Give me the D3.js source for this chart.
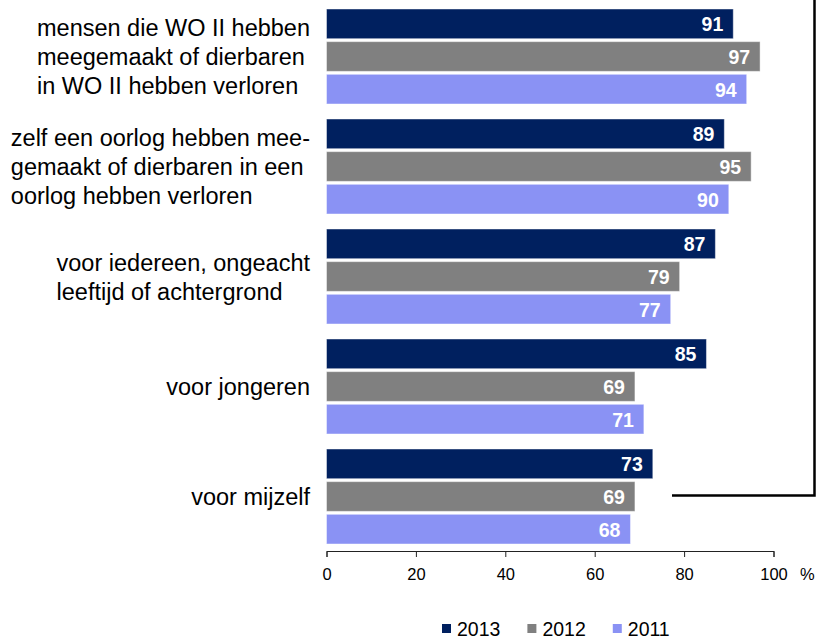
<!DOCTYPE html>
<html>
<head>
<meta charset="utf-8">
<script src="https://cdn.jsdelivr.net/npm/d3@7"></script>
<style>
    body { margin: 0; background: #fff; }
    svg { display: block; font-family: "Liberation Sans", Arial, sans-serif; }
</style>
</head>
<body>
<svg id="chart"></svg>
<script>
// Categories (each label split into its printed lines)
const categories = [
    ["mensen die WO II hebben", "meegemaakt of dierbaren", "in WO II hebben verloren"],
    ["zelf een oorlog hebben mee-", "gemaakt of dierbaren in een", "oorlog hebben verloren"],
    ["voor iedereen, ongeacht", "leeftijd of achtergrond"],
    ["voor jongeren"],
    ["voor mijzelf"]
];
const years = ["2013", "2012", "2011"];
const values2013 = [91, 89, 87, 85, 73];
const values2012 = [97, 95, 79, 69, 69];
const values2011 = [94, 90, 77, 71, 68];
const xTicks = [0, 20, 40, 60, 80, 100];
const unitLabel = "%";

const seriesValues = [values2013, values2012, values2011];
const colors = ["#00205f", "#808080", "#8a92f4"];

const width = 819, height = 641;
const svg = d3.select("#chart")
    .attr("width", width)
    .attr("height", height);

// Scales
const x = d3.scaleLinear().domain([0, 100]).range([326.5, 773.5]);
const keys = categories.map((c, i) => i);
const y = d3.scaleBand().domain(keys).range([1.5, 551.5])
    .paddingInner(0.1364).paddingOuter(0.0682);
const ySub = d3.scaleBand().domain(years).range([0, y.bandwidth()]).paddingInner(0.09);
const color = d3.scaleOrdinal(years, colors);

// Bars
const rows = [];
categories.forEach((c, i) => {
    years.forEach((yr, j) => rows.push({ cat: i, year: yr, value: seriesValues[j][i] }));
});

const bars = svg.append("g").selectAll("g")
    .data(rows)
    .enter()
    .append("g")
    .attr("transform", d => "translate(0," + (y(d.cat) + ySub(d.year)) + ")");

bars.append("rect")
    .attr("x", x(0))
    .attr("y", 0)
    .attr("width", d => x(d.value) - x(0))
    .attr("height", ySub.bandwidth())
    .attr("fill", d => color(d.year))
    .attr("stroke", "rgba(255,255,255,0.45)")
    .attr("stroke-width", 1);

bars.append("text")
    .attr("x", d => x(d.value) - 10)
    .attr("y", ySub.bandwidth() / 2 + 7.5)
    .attr("text-anchor", "end")
    .attr("fill", "#fff")
    .attr("font-size", "19.5px")
    .attr("font-weight", "bold")
    .text(d => d.value);

// Category labels: left-aligned block, right edge near the bars
const labelRight = 310, lineGap = 29;
const labels = svg.append("g").selectAll("text")
    .data(categories)
    .enter()
    .append("text")
    .attr("font-size", "23.5px")
    .attr("fill", "#000");

labels.each(function (lines, i) {
    const t = d3.select(this);
    const mid = y(i) + y.bandwidth() / 2 + 8.5;
    lines.forEach((line, k) => {
        t.append("tspan")
            .attr("y", mid + (k - (lines.length - 1) / 2) * lineGap)
            .text(line);
    });
    let maxW = 0;
    t.selectAll("tspan").each(function () {
        maxW = Math.max(maxW, this.getComputedTextLength());
    });
    t.selectAll("tspan").attr("x", labelRight - maxW);
});

// X axis
const axis = svg.append("g")
    .attr("transform", "translate(0,551)")
    .call(d3.axisBottom(x).tickValues(xTicks).tickSize(6).tickPadding(11.5));
axis.select(".domain").attr("stroke", "#222");
axis.selectAll(".tick line").attr("stroke", "#222");
axis.selectAll(".tick text")
    .attr("fill", "#000")
    .attr("font-size", "16.5px")
    .attr("font-family", "\"Liberation Sans\", Arial, sans-serif");

svg.append("text")
    .attr("x", 800)
    .attr("y", 580)
    .attr("font-size", "16.5px")
    .attr("fill", "#000")
    .text(unitLabel);

// Connector line
svg.append("path")
    .attr("d", "M672,495.5H814.5V0")
    .attr("fill", "none")
    .attr("stroke", "#000")
    .attr("stroke-width", 2.5);

// Legend
const legend = svg.append("g").attr("transform", "translate(442,0)");
let lx = 0;
years.forEach(yr => {
    const item = legend.append("g").attr("transform", "translate(" + lx + ",0)");
    item.append("rect")
        .attr("x", 0).attr("y", 624)
        .attr("width", 9).attr("height", 9)
        .attr("fill", color(yr));
    const t = item.append("text")
        .attr("x", 15).attr("y", 636)
        .attr("font-size", "19.5px")
        .attr("fill", "#000")
        .text(yr);
    lx += 15 + t.node().getComputedTextLength() + 27;
});
</script>
</body>
</html>
